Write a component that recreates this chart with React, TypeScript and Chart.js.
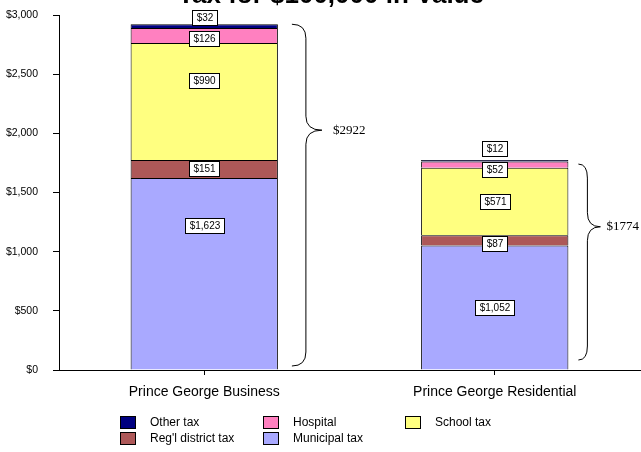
import React, { useEffect, useRef } from "react";
import { Chart, registerables } from "chart.js";

Chart.register(...registerables);

// ---------- data ----------
const TITLE = "Tax for $100,000 in Value";
const CATEGORIES = ["Prince George Business", "Prince George Residential"];
const SERIES_NAMES = ["Municipal tax", "Reg'l district tax", "School tax", "Hospital", "Other tax"];
const MUNICIPAL = [1623, 1052];
const REGIONAL = [151, 87];
const SCHOOL = [990, 571];
const HOSPITAL = [126, 52];
const OTHER = [32, 12];
const Y_MIN = 0;
const Y_MAX = 3000;
const Y_STEP = 500;

// ---------- styles ----------
const COLORS = ["#A9A9FF", "#AD5858", "#FFFF80", "#FF80C0", "#000080"];
const SANS = "Arial, 'Liberation Sans', sans-serif";
const SERIF = "'Times New Roman', 'Liberation Serif', serif";
// vertical nudge (px) of the value boxes relative to segment centre, [series][category]
const LABEL_NUDGE = [
  [-48, 0],
  [-1, 3],
  [-21, 0],
  [3, 5],
  [-9, -12],
];
const BRACES = [
  { hook: 14, stem: 28, tip: 44, text: 55, frac: 0.31, top: 0, bottom: 4 },
  { hook: 10, stem: 19, tip: 32, text: 38, frac: 0.32, top: 4, bottom: 10 },
];
const LEGEND_ORDER = [4, 3, 2, 1, 0];
const LEGEND_COLS = [120, 263, 405];
const LEGEND_ROWS = [416, 432];

const SERIES = [MUNICIPAL, REGIONAL, SCHOOL, HOSPITAL, OTHER];
const fmt = (v: number) => "$" + v.toLocaleString("en-US");

const overlayPlugin = {
  id: "overlay",
  afterDatasetsDraw(chart: any) {
    const ctx = chart.ctx as CanvasRenderingContext2D;
    const yScale = chart.scales.y;
    ctx.save();
    // value boxes
    chart.data.datasets.forEach((ds: any, i: number) => {
      const meta = chart.getDatasetMeta(i);
      meta.data.forEach((el: any, j: number) => {
        const v = ds.data[j] as number;
        const cy = (el.y + el.base) / 2 + LABEL_NUDGE[i][j];
        const cx = el.x;
        const text = fmt(v);
        ctx.font = "10px " + SANS;
        const w = Math.round(ctx.measureText(text).width + 8);
        const h = 15;
        const bx = Math.round(cx - w / 2) + 0.5;
        const by = Math.round(cy - h / 2) + 0.5;
        ctx.fillStyle = "#fff";
        ctx.fillRect(bx, by, w, h);
        ctx.strokeStyle = "#000";
        ctx.lineWidth = 1;
        ctx.strokeRect(bx, by, w, h);
        ctx.fillStyle = "#000";
        ctx.textAlign = "center";
        ctx.textBaseline = "middle";
        ctx.fillText(text, bx + w / 2, by + h / 2 + 0.5);
      });
    });
    // braces
    const lastMeta = chart.getDatasetMeta(chart.data.datasets.length - 1);
    CATEGORIES.forEach((_, j) => {
      const total = SERIES.reduce((s, arr) => s + arr[j], 0);
      const el: any = lastMeta.data[j];
      const right = el.x + el.width / 2;
      const b = BRACES[j];
      const yTop = yScale.getPixelForValue(total) + b.top;
      const yBot = yScale.getPixelForValue(0) - b.bottom;
      const yTip = yTop + (yBot - yTop) * b.frac;
      const x0 = right + b.hook;
      const xm = right + b.stem;
      const xt = right + b.tip;
      const r = 14;
      ctx.beginPath();
      ctx.moveTo(x0, yTop);
      ctx.quadraticCurveTo(xm, yTop, xm, yTop + r);
      ctx.lineTo(xm, yTip - r);
      ctx.quadraticCurveTo(xm, yTip, xt, yTip);
      ctx.quadraticCurveTo(xm, yTip, xm, yTip + r);
      ctx.lineTo(xm, yBot - r);
      ctx.quadraticCurveTo(xm, yBot, x0, yBot);
      ctx.strokeStyle = "#000";
      ctx.lineWidth = 1;
      ctx.stroke();
      ctx.font = "13px " + SERIF;
      ctx.fillStyle = "#000";
      ctx.textAlign = "left";
      ctx.textBaseline = "middle";
      ctx.fillText("$" + total, right + b.text, yTip);
    });
    ctx.restore();
  },
  afterDraw(chart: any) {
    const ctx = chart.ctx as CanvasRenderingContext2D;
    ctx.save();
    // clipped title
    ctx.font = "bold 26px " + SANS;
    ctx.fillStyle = "#000";
    ctx.textAlign = "center";
    ctx.textBaseline = "alphabetic";
    ctx.fillText(TITLE, 331, 3);
    // legend
    ctx.font = "12px " + SANS;
    LEGEND_ORDER.forEach((si, k) => {
      const col = k % 3;
      const row = Math.floor(k / 3);
      const x = LEGEND_COLS[col];
      const y = LEGEND_ROWS[row];
      ctx.fillStyle = COLORS[si];
      ctx.fillRect(x + 0.5, y + 0.5, 15, 12);
      ctx.strokeStyle = "#000";
      ctx.lineWidth = 1;
      ctx.strokeRect(x + 0.5, y + 0.5, 15, 12);
      ctx.fillStyle = "#000";
      ctx.textAlign = "left";
      ctx.textBaseline = "middle";
      ctx.fillText(SERIES_NAMES[si], x + 30, y + 6.5);
    });
    ctx.restore();
  },
};

export default function App() {
  const ref = useRef<HTMLCanvasElement | null>(null);
  useEffect(() => {
    if (!ref.current) return;
    const chart = new Chart(ref.current, {
      type: "bar",
      data: {
        labels: CATEGORIES,
        datasets: SERIES.map((arr, i) => ({
          label: SERIES_NAMES[i],
          data: arr,
          backgroundColor: COLORS[i],
          borderColor: "#000",
          borderWidth: 1,
          borderSkipped: "start",
          barPercentage: 0.507,
          categoryPercentage: 1,
        })),
      },
      options: {
        responsive: false,
        animation: false,
        devicePixelRatio: 1,
        layout: { padding: { top: 15, left: 0, right: 1, bottom: 52 } },
        plugins: {
          legend: { display: false },
          title: { display: false },
          tooltip: { enabled: false },
        },
        scales: {
          x: {
            stacked: true,
            grid: { offset: false, drawOnChartArea: false, tickLength: 5, color: "#000" },
            border: { display: true, color: "#000", width: 1 },
            ticks: { color: "#000", font: { family: SANS, size: 14 }, padding: 9, maxRotation: 0 },
            afterFit: (s: any) => {
              s.height = 30;
              s.paddingTop = 0;
              s.paddingBottom = 0;
              s.paddingLeft = 0;
              s.paddingRight = 0;
            },
          },
          y: {
            stacked: true,
            min: Y_MIN,
            max: Y_MAX,
            grid: { drawOnChartArea: false, tickLength: 6, color: "#000" },
            border: { display: true, color: "#000", width: 1 },
            ticks: {
              stepSize: Y_STEP,
              color: "#000",
              padding: 15,
              font: { family: SANS, size: 10.5 },
              callback: (v: any) => fmt(Number(v)),
            },
            afterFit: (s: any) => {
              s.width = 59;
              s.paddingTop = 0;
              s.paddingBottom = 0;
              s.paddingLeft = 0;
              s.paddingRight = 0;
            },
          },
        },
      },
      plugins: [overlayPlugin],
    });
    return () => chart.destroy();
  }, []);
  return (
    <div style={{ position: "absolute", left: 0, top: 0, width: 641, height: 452, background: "#fff" }}>
      <canvas ref={ref} width={641} height={452} />
    </div>
  );
}
